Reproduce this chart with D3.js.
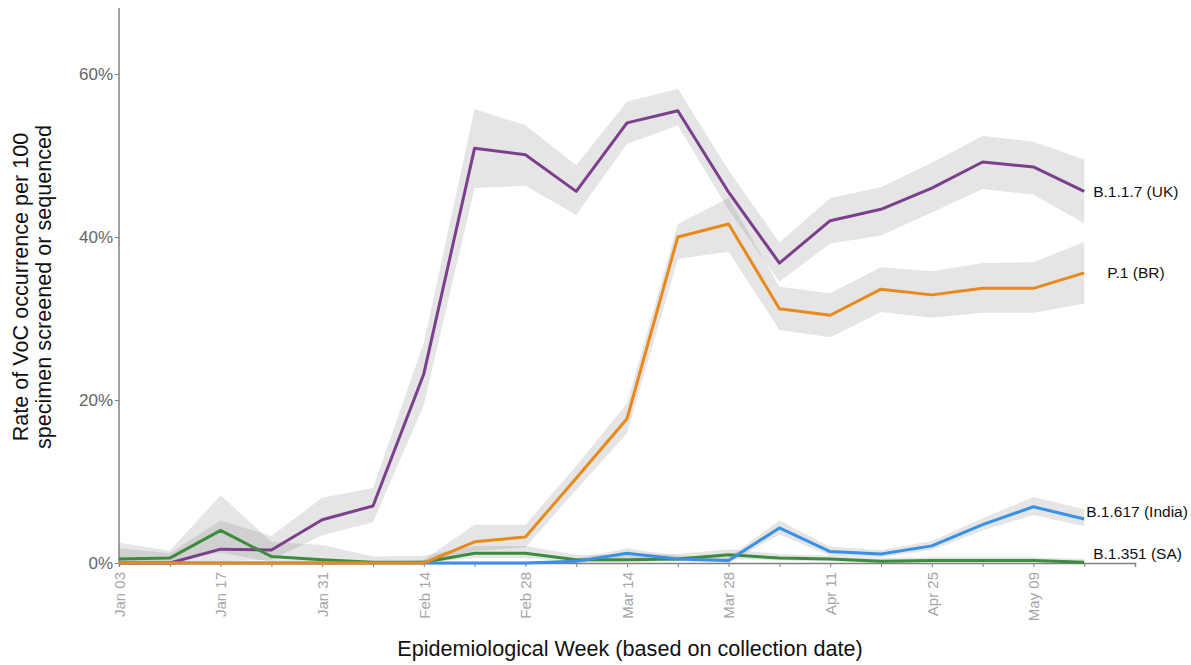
<!DOCTYPE html>
<html>
<head>
<meta charset="utf-8">
<script src="https://cdn.jsdelivr.net/npm/d3@7"></script>
<style>
  body { margin: 0; background: #fff; }
  text { font-family: "Liberation Sans", Arial, sans-serif; }
</style>
</head>
<body>
<svg id="chart" width="1191" height="665"></svg>
<script>
// weekly points, epi weeks starting Jan 03 2021
var weeks = ["2021-01-03","2021-01-10","2021-01-17","2021-01-24","2021-01-31","2021-02-07",
             "2021-02-14","2021-02-21","2021-02-28","2021-03-07","2021-03-14","2021-03-21",
             "2021-03-28","2021-04-04","2021-04-11","2021-04-18","2021-04-25","2021-05-02",
             "2021-05-09","2021-05-16"];

var ukRate  = [0, 0, 1.7, 1.6, 5.3, 7.0, 23.2, 50.9, 50.1, 45.6, 54.0, 55.5, 45.5, 36.8, 42.0, 43.4, 46.0, 49.2, 48.6, 45.6];
var ukLow   = [0, 0, 0.2, 0.4, 3.4, 5.0, 19.4, 46.0, 46.3, 42.7, 51.4, 53.7, 43.3, 34.5, 39.2, 40.2, 43.0, 45.9, 45.2, 41.7];
var ukHigh  = [1.8, 1.2, 5.2, 3.3, 8.0, 9.2, 27.0, 55.7, 53.7, 48.8, 56.6, 58.2, 48.2, 39.3, 44.8, 46.1, 49.1, 52.4, 51.7, 49.5];

var saRate  = [0.5, 0.6, 4.0, 0.8, 0.4, 0.1, 0.1, 1.2, 1.2, 0.4, 0.4, 0.5, 1.0, 0.6, 0.5, 0.2, 0.3, 0.3, 0.3, 0.1];
var saLow   = [0, 0, 1.3, 0.1, 0, 0, 0, 0.6, 0.6, 0.1, 0.1, 0.2, 0.5, 0.3, 0.2, 0, 0.1, 0.1, 0.1, 0];
var saHigh  = [2.5, 1.5, 8.3, 2.6, 2.2, 0.8, 0.9, 2.1, 2.1, 1.0, 1.0, 1.1, 1.7, 1.1, 0.9, 0.6, 0.7, 0.7, 0.7, 0.5];

var inRate  = [0, 0, 0, 0, 0, 0, 0, 0, 0, 0.2, 1.2, 0.5, 0.3, 4.3, 1.4, 1.1, 2.1, 4.7, 6.9, 5.4];
var inLow   = [0, 0, 0, 0, 0, 0, 0, 0, 0, 0, 0.7, 0.2, 0, 3.5, 0.9, 0.7, 1.6, 4.0, 5.9, 4.5];
var inHigh  = [0, 0, 0, 0, 0, 0, 0, 0, 0, 0.5, 1.8, 0.9, 0.7, 5.2, 2.0, 1.6, 2.7, 5.5, 8.1, 6.6];

var brRate  = [0, 0, 0, 0, 0, 0, 0, 2.6, 3.2, 10.4, 17.7, 40.0, 41.6, 31.2, 30.4, 33.6, 32.9, 33.7, 33.7, 35.6];
var brLow   = [0, 0, 0, 0, 0, 0, 0, 1.5, 1.9, 9.0, 15.9, 37.3, 38.2, 28.6, 27.7, 30.8, 30.1, 30.7, 30.7, 31.8];
var brHigh  = [0, 0, 0, 0, 0, 0, 0.4, 4.7, 4.7, 11.9, 19.6, 41.6, 44.8, 33.9, 33.1, 36.3, 35.8, 36.8, 36.9, 39.4];

var variantNames = ["B.1.1.7 (UK)", "B.1.351 (SA)", "B.1.617 (India)", "P.1 (BR)"];
var variantColors = ["#7b3f8c", "#3d8b3d", "#3a90e5", "#e8891c"];
var yTicks = [0, 20, 40, 60];

var parse = d3.timeParse("%Y-%m-%d");
var dates = weeks.map(parse);

var series = [
  {name: variantNames[0], color: variantColors[0], rate: ukRate, lo: ukLow, hi: ukHigh, dx: 9, dy: 0},
  {name: variantNames[1], color: variantColors[1], rate: saRate, lo: saLow, hi: saHigh, dx: 9, dy: -9},
  {name: variantNames[2], color: variantColors[2], rate: inRate, lo: inLow, hi: inHigh, dx: 2, dy: -7},
  {name: variantNames[3], color: variantColors[3], rate: brRate, lo: brLow, hi: brHigh, dx: 23, dy: 0}
];

var svg = d3.select("#chart");

var x = d3.scaleTime()
    .domain([dates[0], d3.timeWeek.offset(dates[dates.length - 1], 1)])
    .range([119, 1135]);
var y = d3.scaleLinear().domain([0, 68.1]).range([563, 8]);

// ribbons first
series.forEach(function(s) {
  var area = d3.area()
      .x(function(d, i) { return x(dates[i]); })
      .y0(function(d, i) { return y(s.lo[i]); })
      .y1(function(d, i) { return y(s.hi[i]); });
  svg.append("path")
     .datum(s.rate)
     .attr("d", area)
     .attr("fill", "#7f7f7f")
     .attr("fill-opacity", 0.2);
});

// x axis: tick every week, label every other
var xAxis = d3.axisBottom(x)
    .tickValues(dates)
    .tickSize(4)
    .tickFormat(function(d, i) { return i % 2 === 0 ? d3.timeFormat("%b %d")(d) : ""; });

var gx = svg.append("g").attr("transform", "translate(0,563)").call(xAxis);
gx.select(".domain").attr("stroke", "#808080").attr("stroke-width", 1.5);
gx.selectAll(".tick line").attr("stroke", "#808080");
gx.selectAll(".tick text")
  .attr("transform", "rotate(-90)")
  .attr("text-anchor", "end")
  .attr("x", -9)
  .attr("y", 0)
  .attr("dy", "0.35em")
  .attr("fill", "#a6a6a6")
  .style("font-size", "15px");

var yAxis = d3.axisLeft(y)
    .tickValues(yTicks)
    .tickSize(4)
    .tickFormat(function(d) { return d + "%"; });

var gy = svg.append("g").attr("transform", "translate(119,0)").call(yAxis);
gy.select(".domain").attr("stroke", "#808080").attr("stroke-width", 1.5)
  .attr("d", "M0," + y(68.1) + "V" + y(0));
gy.selectAll(".tick line").attr("stroke", "#808080");
gy.selectAll(".tick text")
  .attr("fill", "#666")
  .attr("x", -6)
  .style("font-size", "17px");

// lines
series.forEach(function(s) {
  var line = d3.line()
      .x(function(d, i) { return x(dates[i]); })
      .y(function(d) { return y(d); });
  svg.append("path")
     .datum(s.rate)
     .attr("d", line)
     .attr("fill", "none")
     .attr("stroke", s.color)
     .attr("stroke-width", 3)
     .attr("stroke-linejoin", "round");
});

// end labels
series.forEach(function(s) {
  var n = s.rate.length - 1;
  svg.append("text")
     .attr("x", x(dates[n]) + s.dx)
     .attr("y", y(s.rate[n]) + s.dy)
     .attr("dy", "0.35em")
     .attr("fill", "#111")
     .style("font-size", "15.5px")
     .text(s.name);
});

// axis titles
svg.append("text")
   .attr("x", 630).attr("y", 656)
   .attr("text-anchor", "middle")
   .attr("fill", "#111")
   .style("font-size", "21.6px")
   .text("Epidemiological Week (based on collection date)");

var yt = svg.append("text")
   .attr("transform", "translate(28,287) rotate(-90)")
   .attr("text-anchor", "middle")
   .attr("fill", "#111")
   .style("font-size", "21.6px");
yt.append("tspan").attr("x", 0).attr("dy", 0).text("Rate of VoC occurrence per 100");
yt.append("tspan").attr("x", 0).attr("dy", "1.08em").text("specimen screened or sequenced");
</script>
</body>
</html>
